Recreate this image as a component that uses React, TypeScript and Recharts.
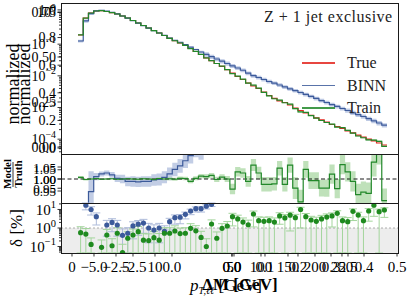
import React from "react";
import {
  ComposedChart,
  Line,
  Area,
  Scatter,
  ErrorBar,
  XAxis,
  YAxis,
  ReferenceLine,
  ReferenceArea,
  Legend,
} from "recharts";

// values, 59 bins, left to right
const trueVals = [
  0.195, 0.67, 0.964, 1.114, 1.14, 1.076, 0.986, 0.897, 0.776, 0.67,
  0.559, 0.466, 0.389, 0.324, 0.27, 0.225, 0.188, 0.153, 0.128, 0.109,
  0.0908, 0.073, 0.0587, 0.0472, 0.0366, 0.0299, 0.0245, 0.02, 0.0158, 0.0123,
  0.00953, 0.00766, 0.00594, 0.00478, 0.00398, 0.00309, 0.00239, 0.00193, 0.00163, 0.00144,
  0.0012, 0.000964, 0.000805, 0.000671, 0.00056, 0.000467, 0.000404, 0.000349, 0.000291, 0.000251,
  0.000217, 0.000184, 0.000157, 0.000135, 0.000117, 0.000101, 0.0000877, 0.0000757, 0.0000655,
];
const trainVals = [
  0.196, 0.669, 0.964, 1.116, 1.139, 1.076, 0.987, 0.896, 0.776, 0.671,
  0.559, 0.466, 0.389, 0.324, 0.269, 0.225, 0.188, 0.153, 0.128, 0.109,
  0.091, 0.0723, 0.0589, 0.0478, 0.037, 0.0303, 0.0245, 0.0202, 0.0158, 0.01178,
  0.00982, 0.00785, 0.00588, 0.00506, 0.00408, 0.00302, 0.00234, 0.00189, 0.0017, 0.00141,
  0.00127, 0.000927, 0.000729, 0.000698, 0.000556, 0.000464, 0.000389, 0.000336, 0.000297, 0.000241,
  0.00023, 0.00019, 0.000155, 0.000126, 0.000111, 0.0000949, 0.0000938, 0.0000855, 0.0000596,
];
const binnVals = [
  0.126, 0.54, 0.916, 1.125, 1.164, 1.103, 1.003, 0.899, 0.776, 0.663,
  0.553, 0.461, 0.385, 0.321, 0.269, 0.225, 0.189, 0.156, 0.133, 0.115,
  0.0977, 0.0801, 0.0679, 0.0566, 0.0479, 0.0402, 0.034, 0.029, 0.0245, 0.0207,
  0.0177, 0.015, 0.0121, 0.0101, 0.00887, 0.00766, 0.00662, 0.00586, 0.00514, 0.00445,
  0.0039, 0.0034, 0.00298, 0.00258, 0.00223, 0.00193, 0.00166, 0.00144, 0.00124, 0.00108,
  0.000931, 0.000805, 0.000681, 0.000593, 0.00052, 0.000444, 0.00038, 0.000324, 0.000276,
];
const binnRelErr = [
  0.1, 0.12, 0.09, 0.015, 0.01, 0.01, 0.012, 0.015, 0.018, 0.02,
  0.022, 0.022, 0.022, 0.022, 0.024, 0.025, 0.025, 0.026, 0.027, 0.027,
  0.028, 0.03, 0.06, 0.1, 0.16, 0.16, 0.15, 0.15, 0.15, 0.14,
  0.14, 0.14, 0.14, 0.14, 0.14, 0.13, 0.13, 0.13, 0.13, 0.13,
  0.13, 0.13, 0.13, 0.13, 0.13, 0.14, 0.14, 0.14, 0.14, 0.14,
  0.14, 0.15, 0.15, 0.15, 0.15, 0.15, 0.16, 0.16, 0.16,
];
const ratioTrain = [
  1.007, 0.998, 1.0, 1.002, 0.999, 1.0, 1.001, 0.999, 1.0, 1.001,
  1.0, 0.999, 1.001, 1.0, 0.998, 1.002, 1.0, 1.001, 0.999, 1.003,
  1.002, 0.99, 1.003, 1.012, 1.01, 1.015, 0.998, 1.008, 1.0, 0.958,
  1.03, 1.025, 0.99, 1.058, 1.025, 0.978, 0.978, 0.98, 1.045, 0.978,
  1.058, 0.962, 0.905, 1.04, 0.993, 0.993, 0.962, 0.962, 1.02, 0.96,
  1.06, 1.03, 0.99, 0.935, 0.945, 0.94, 1.07, 1.13, 0.91,
];
const ratioTrainErr = [
  0.006, 0.004, 0.003, 0.003, 0.003, 0.003, 0.003, 0.003, 0.003, 0.003,
  0.004, 0.004, 0.004, 0.004, 0.005, 0.005, 0.005, 0.006, 0.006, 0.007,
  0.007, 0.008, 0.008, 0.009, 0.01, 0.01, 0.011, 0.012, 0.013, 0.022,
  0.02, 0.02, 0.022, 0.025, 0.026, 0.03, 0.03, 0.028, 0.03, 0.03,
  0.032, 0.045, 0.05, 0.035, 0.035, 0.035, 0.035, 0.036, 0.04, 0.04,
  0.04, 0.04, 0.042, 0.045, 0.045, 0.045, 0.06, 0.07, 0.05,
];
const ratioBinn = [
  0.65, 0.8, 0.947, 1.01, 1.021, 1.025, 1.017, 1.003, 1.0, 0.99,
  0.99, 0.988, 0.99, 0.99, 0.996, 0.998, 1.007, 1.021, 1.04, 1.055,
  1.076, 1.097, 1.16, 1.2, 1.31, 1.34, 1.39, 1.45, 1.55, 1.68,
  1.86, 1.96, 2.0, 2.1, 2.2, 2.5, 2.8, 3.0, 3.2, 3.1,
  3.2, 3.3, 3.5, 3.8, 3.8, 3.9, 4.0, 4.1, 4.1, 4.1,
  4.3, 4.3, 4.4, 4.4, 4.4, 4.4, 4.3, 4.3, 4.2,
];

// delta [%] per bin, null = not drawn; errors in decades (9 = down to the axis)
const deltaBinn = [
  null, 17, 10, 4.1, null, 1.45, 2.0, 1.45, 0.4, 0.52,
  1.3, 1.6, 1.85, 1.0, 0.78, 1.0, 0.66, 2.2, 3.6, 3.8,
  5.5, 8.3, 11, 11, 15, 19, null, null, null, null,
  null, null, null, null, null, null, null, null, null, null,
  null, null, null, null, null, null, null, null, null, null,
  null, null, null, null, null, null, null, null, null,
];
const deltaBinnUp = [
  0, 0.12, 0.15, 0.2, 0, 0.25, 0.2, 0.25, 0.35, 0.3,
  0.22, 0.2, 0.2, 0.25, 0.28, 0.25, 0.3, 0.18, 0.15, 0.15,
  0.12, 0.1, 0.1, 0.1, 0.08, 0.08,
];
const deltaBinnDown = [
  0, 0.25, 0.3, 0.45, 0, 0.6, 0.5, 0.6, 9, 9,
  0.7, 0.6, 0.55, 0.8, 9, 0.8, 9, 0.45, 0.35, 0.35,
  0.25, 0.2, 0.18, 0.18, 0.15, 0.12,
];
const deltaTrain = [
  0.56, 0.47, 0.13, null, 0.09, 0.42, 0.11, 0.52, 0.047, 0.28,
  0.42, 0.63, 0.22, 0.21, 0.3, 0.22, 0.52, 0.52, 0.69, 0.5,
  0.52, 0.96, 0.7, 0.31, 0.1, 1.65, 0.28, 0.96, 1.28, 4.1,
  3.1, 2.1, 1.5, 5.7, 2.5, 2.3, 2.5, 2.1, 4.5, 3.5,
  4.9, 3.6, 10, 4.1, 2.7, 2.3, 3.1, 3.9, 4.5, 6.2,
  2.5, 2.2, 8, 5, 2.5, 8.3, 17, 7.6, 9.4,
];
const deltaTrainUp = [
  0.32, 0.3, 0.35, 0, 0.4, 0.3, 0.38, 0.3, 0.45, 0.35,
  0.32, 0.28, 0.35, 0.36, 0.33, 0.36, 0.3, 0.3, 0.28, 0.3,
  0.3, 0.25, 0.28, 0.33, 0.42, 0.22, 0.34, 0.25, 0.24, 0.18,
  0.2, 0.22, 0.25, 0.16, 0.2, 0.22, 0.2, 0.22, 0.17, 0.18,
  0.16, 0.18, 0.12, 0.17, 0.2, 0.22, 0.19, 0.17, 0.16, 0.14,
  0.2, 0.22, 0.13, 0.15, 0.2, 0.13, 0.1, 0.14, 0.12,
];
const deltaTrainDown = [
  9, 9, 9, 0, 9, 9, 9, 9, 9, 9,
  9, 9, 9, 9, 9, 9, 9, 9, 9, 9,
  9, 9, 9, 9, 9, 9, 9, 9, 9, 0.5,
  9, 9, 9, 0.7, 9, 9, 9, 9, 0.45, 9,
  0.85, 9, 1.0, 9, 9, 9, 9, 9, 0.6, 9,
  9, 9, 0.5, 9, 9, 0.55, 0.6, 9, 0.4,
];

// tick labels (several axes print on top of each other in the original)
const mainLinTicks = [0, 0.25, 0.5, 0.75];
const mainLin2Ticks = [0, 0.2, 0.4, 0.6, 0.8, 1.0];
const ratioTicks = [0.95, 1.0, 1.05];
const xTicksEta = [-5, -2.5, 0];
const xTicksPhi = [-2.5, 0, 2.5];
const xTicksN = [0, 10];
const xTicksPt = [50, 100, 150, 200, 250];
const xTicksR = [0, 0.1, 0.2, 0.3, 0.4, 0.5];

const N = trueVals.length;
const X_DOMAIN: [number, number] = [-3.246, 61.29];
const MAIN_DOMAIN: [number, number] = [3.162e-5, 1.995];
const DELTA_DOMAIN: [number, number] = [0.0447, 22.39];

const FONT = '"Liberation Serif", "DejaVu Serif", serif';
const SPINE = 61;
const RED = "#e3261f";
const BLUE = "#3c5a9a";
const BLUE_BAND = "#b7c4e1";
const GREEN = "#22882a";
const GREEN_BAND = "#a9d7a3";

const at = (arr: number[], i: number) => arr[Math.min(i, N - 1)];

const mainData = Array.from({ length: N + 1 }, (_, i) => {
  const t = at(trainVals, i);
  const b = at(binnVals, i);
  const eb = at(binnRelErr, i);
  const et = at(ratioTrainErr, i);
  return {
    x: i,
    truth: at(trueVals, i),
    train: t,
    binn: b,
    binnBand: [b * (1 - eb), b * (1 + eb)],
    trainBand: [t * (1 - et), t * (1 + et)],
  };
});

const ratioData = Array.from({ length: N + 1 }, (_, i) => {
  const rt = at(ratioTrain, i);
  const rb = at(ratioBinn, i);
  const et = at(ratioTrainErr, i);
  const eb = at(binnRelErr, i);
  return {
    x: i,
    rTrain: rt,
    rBinn: rb,
    rTrainBand: [rt - et, rt + et],
    rBinnBand: [rb * (1 - eb), rb * (1 + eb)],
  };
});

const toPoints = (vals: (number | null)[], up: number[], down: number[]) =>
  vals.flatMap((v, i) =>
    v == null
      ? []
      : [
          {
            x: i + 0.5,
            y: v,
            err: [
              v - Math.max(v * Math.pow(10, -down[i]), DELTA_DOMAIN[0]),
              Math.min(v * Math.pow(10, up[i]), DELTA_DOMAIN[1]) - v,
            ],
          },
        ]
  );
const binnPts = toPoints(deltaBinn, deltaBinnUp, deltaBinnDown);
const trainPts = toPoints(deltaTrain, deltaTrainUp, deltaTrainDown);

const logTicks = (lo: number, hi: number) => {
  const out: number[] = [];
  for (let e = Math.floor(Math.log10(lo)); e <= Math.ceil(Math.log10(hi)); e++) {
    for (let m = 1; m < 10; m++) {
      const v = m * Math.pow(10, e);
      if (v >= lo && v <= hi) out.push(v);
    }
  }
  return out;
};
const mainLogTicks = logTicks(MAIN_DOMAIN[0], MAIN_DOMAIN[1]);
const deltaLogTicks = logTicks(DELTA_DOMAIN[0], DELTA_DOMAIN[1]);

const fmt = (d: number) => (v: number) => (v < 0 ? "\u2212" : "") + Math.abs(v).toFixed(d);

const LogTick = (props: any) => {
  const { y, payload, fontSize } = props;
  const lv = Math.log10(payload.value);
  const e = Math.round(lv);
  const major = Math.abs(lv - e) < 1e-6;
  return (
    <g>
      <line x1={SPINE - (major ? 3.5 : 2)} x2={SPINE} y1={y} y2={y} stroke="#000" strokeWidth={0.8} />
      {major && (
        <text x={SPINE - 5} y={y} dy={fontSize * 0.35} textAnchor="end" fontSize={fontSize} fill="#000">
          <tspan>10</tspan>
          <tspan dy={-fontSize * 0.45} fontSize={fontSize * 0.7}>
            {e < 0 ? `\u2212${-e}` : `${e}`}
          </tspan>
        </text>
      )}
    </g>
  );
};

const LinTick = (props: any) => {
  const { y, payload, fontSize, format } = props;
  return (
    <g>
      <line x1={SPINE - 3.5} x2={SPINE} y1={y} y2={y} stroke="#000" strokeWidth={0.8} />
      <text x={SPINE - 5} y={y} dy={fontSize * 0.35} textAnchor="end" fontSize={fontSize} fill="#000">
        {format(payload.value)}
      </text>
    </g>
  );
};

const XSetTick = (props: any) => {
  const { x, payload, format } = props;
  return (
    <g>
      <line x1={x} x2={x} y1={50} y2={53.5} stroke="#000" strokeWidth={0.8} />
      <text x={x} y={69} textAnchor="middle" fontSize={15} fill="#000">
        {format(payload.value)}
      </text>
    </g>
  );
};

const xSets = [
  { id: "eta", ticks: xTicksEta, domain: [-7.115, 14.551], format: fmt(1) },
  { id: "phi", ticks: xTicksPhi, domain: [-3.685, 3.599], format: fmt(1) },
  { id: "n", ticks: xTicksN, domain: [-1.325, 39.398], format: fmt(0) },
  { id: "pt", ticks: xTicksPt, domain: [-270.4, 355.6], format: fmt(0) },
  { id: "r", ticks: xTicksR, domain: [-0.518, 0.506], format: fmt(1) },
];

const MainYLabel = () => (
  <g fontSize={18} fill="#000">
    <text transform="translate(19,84) rotate(-90)" textAnchor="middle">normalized</text>
    <text transform="translate(30,84) rotate(-90)" textAnchor="middle">normalized</text>
  </g>
);

const RatioYLabel = () => (
  <g fontSize={11} fontWeight="bold" fill="#000">
    <text transform="translate(11,19) rotate(-90)" textAnchor="middle">Model</text>
    <line x1={13} x2={13} y1={7} y2={32} stroke="#000" strokeWidth={0.8} />
    <text transform="translate(22,19) rotate(-90)" textAnchor="middle">Truth</text>
  </g>
);

const DeltaYLabel = () => (
  <text transform="translate(22,25) rotate(-90)" textAnchor="middle" fontSize={17} fill="#000">
    {"\u03b4 [%]"}
  </text>
);

const XLabel = () => (
  <g fontSize={17} fill="#000">
    <text x={226} y={88} textAnchor="middle">
      <tspan fontStyle="italic">p</tspan>
      <tspan fontSize={10} dy={3} fontStyle="italic">{"T,\u2113\u2113"}</tspan>
      <tspan dy={-3}> [GeV]</tspan>
    </text>
    <text x={240} y={87} textAnchor="middle" fontWeight="bold">
      {"\u0394M [GeV]"}
    </text>
  </g>
);

const LegendBox = () => (
  <div style={{ position: "relative", width: 150, height: 120, fontFamily: FONT, color: "#222" }}>
    <div style={{ position: "absolute", left: 9, top: 8, fontSize: 16, lineHeight: "18px", whiteSpace: "nowrap", letterSpacing: 0.5 }}>
      Z + 1 jet exclusive
    </div>
    {[
      { name: "True", color: RED, y: 63 },
      { name: "BINN", color: BLUE, y: 85.5 },
      { name: "Train", color: GREEN, y: 108 },
    ].map((e) => (
      <React.Fragment key={e.name}>
        <div style={{ position: "absolute", left: 47, top: e.y - 0.75, width: 33, height: 1.5, background: e.color, opacity: 0.85 }} />
        <div style={{ position: "absolute", left: 92, top: e.y - 10, fontSize: 16, lineHeight: "20px" }}>{e.name}</div>
      </React.Fragment>
    ))}
  </div>
);

const frame = (top: number, height: number): React.CSSProperties => ({
  position: "absolute",
  left: SPINE,
  top,
  width: 399 - SPINE,
  height,
  border: "1px solid #1a1a1a",
  boxSizing: "border-box",
  pointerEvents: "none",
});

export default function App() {
  return (
    <div style={{ position: "absolute", left: 0, top: 0, width: 407, height: 299, background: "#fff", fontFamily: FONT, overflow: "hidden" }}>
      <style>{`.recharts-surface { overflow: visible; }`}</style>
      <div style={{ position: "absolute", left: 0, top: 0 }}>
        <ComposedChart width={407} height={155} data={mainData} margin={{ top: 3, right: 8, bottom: 0, left: 0 }}>
          <XAxis dataKey="x" type="number" domain={X_DOMAIN} allowDataOverflow hide />
          <YAxis
            yAxisId="log"
            scale="log"
            type="number"
            domain={MAIN_DOMAIN}
            allowDataOverflow
            ticks={mainLogTicks}
            interval={0}
            width={61}
            axisLine={false}
            tickLine={false}
            tick={(p: any) => <LogTick {...p} fontSize={14} />}
            label={() => <MainYLabel />}
          />
          <YAxis
            yAxisId="lin"
            type="number"
            domain={[-0.0444, 0.8]}
            allowDataOverflow
            ticks={mainLinTicks}
            interval={0}
            mirror
            axisLine={false}
            tickLine={false}
            tick={(p: any) => <LinTick {...p} fontSize={14} format={fmt(2)} />}
          />
          <YAxis
            yAxisId="lin2"
            type="number"
            domain={[-0.05, 1.05]}
            allowDataOverflow
            ticks={mainLin2Ticks}
            interval={0}
            mirror
            axisLine={false}
            tickLine={false}
            tick={(p: any) => <LinTick {...p} fontSize={14} format={fmt(1)} />}
          />
          <Area yAxisId="log" dataKey="binnBand" type="stepAfter" stroke="none" fill={BLUE_BAND} fillOpacity={0.9} isAnimationActive={false} />
          <Area yAxisId="log" dataKey="trainBand" type="stepAfter" stroke="none" fill={GREEN_BAND} fillOpacity={0.8} isAnimationActive={false} />
          <Line yAxisId="log" dataKey="truth" type="stepAfter" stroke={RED} strokeWidth={1.2} dot={false} activeDot={false} isAnimationActive={false} />
          <Line yAxisId="log" dataKey="binn" type="stepAfter" stroke={BLUE} strokeWidth={1.2} dot={false} activeDot={false} isAnimationActive={false} />
          <Line yAxisId="log" dataKey="train" type="stepAfter" stroke={GREEN} strokeWidth={1.2} dot={false} activeDot={false} isAnimationActive={false} />
          <Legend
            layout="vertical"
            align="center"
            verticalAlign="middle"
            wrapperStyle={{ left: 255, top: 0, width: 150, height: 120 }}
            content={() => <LegendBox />}
          />
        </ComposedChart>
      </div>

      <div style={{ position: "absolute", left: 0, top: 155 }}>
        <ComposedChart width={407} height={48} data={ratioData} margin={{ top: 0, right: 8, bottom: 0, left: 0 }}>
          <XAxis dataKey="x" type="number" domain={X_DOMAIN} allowDataOverflow hide />
          <YAxis
            type="number"
            domain={[0.9, 1.1]}
            allowDataOverflow
            ticks={ratioTicks}
            interval={0}
            width={61}
            axisLine={false}
            tickLine={false}
            tick={(p: any) => <LinTick {...p} fontSize={13} format={fmt(2)} />}
            label={() => <RatioYLabel />}
          />
          <YAxis
            yAxisId="r2"
            type="number"
            domain={[0.87, 1.13]}
            allowDataOverflow
            ticks={ratioTicks}
            interval={0}
            mirror
            axisLine={false}
            tickLine={false}
            tick={(p: any) => <LinTick {...p} fontSize={13} format={fmt(2)} />}
          />
          <Area dataKey="rBinnBand" type="stepAfter" stroke="none" fill={BLUE_BAND} fillOpacity={0.85} isAnimationActive={false} />
          <Area dataKey="rTrainBand" type="stepAfter" stroke="none" fill={GREEN_BAND} fillOpacity={0.75} isAnimationActive={false} />
          <ReferenceLine y={1} stroke="#000" strokeWidth={0.9} strokeDasharray="4 2.5" />
          <Line dataKey="rBinn" type="stepAfter" stroke={BLUE} strokeWidth={1.2} dot={false} activeDot={false} isAnimationActive={false} />
          <Line dataKey="rTrain" type="stepAfter" stroke={GREEN} strokeWidth={1.2} dot={false} activeDot={false} isAnimationActive={false} />
        </ComposedChart>
      </div>

      <div style={{ position: "absolute", left: 0, top: 203 }}>
        <ComposedChart width={407} height={96} data={mainData} margin={{ top: 0, right: 8, bottom: 0, left: 0 }}>
          <XAxis
            dataKey="x"
            type="number"
            domain={X_DOMAIN}
            allowDataOverflow
            height={46}
            tick={false}
            tickLine={false}
            axisLine={false}
            label={() => <XLabel />}
          />
          {xSets.map((s) => (
            <XAxis
              key={s.id}
              xAxisId={s.id}
              dataKey="x"
              type="number"
              domain={s.domain}
              allowDataOverflow
              ticks={s.ticks}
              interval={0}
              mirror
              axisLine={false}
              tickLine={false}
              tick={(p: any) => <XSetTick {...p} format={s.format} />}
            />
          ))}
          <YAxis
            scale="log"
            type="number"
            domain={DELTA_DOMAIN}
            allowDataOverflow
            ticks={deltaLogTicks}
            interval={0}
            width={61}
            axisLine={false}
            tickLine={false}
            tick={(p: any) => <LogTick {...p} fontSize={15} />}
            label={() => <DeltaYLabel />}
          />
          <ReferenceArea y1={DELTA_DOMAIN[0]} y2={1} fill="#ededed" fillOpacity={1} stroke="none" />
          <ReferenceLine y={1} stroke="#9a9a9a" strokeWidth={0.8} strokeDasharray="2 2" />
          <Scatter
            data={binnPts}
            dataKey="y"
            isAnimationActive={false}
            shape={(p: any) => <circle cx={p.cx} cy={p.cy} r={2.6} fill={BLUE} />}
          >
            <ErrorBar dataKey="err" direction="y" width={4} stroke="#aebbda" strokeWidth={1} />
          </Scatter>
          <Scatter
            data={trainPts}
            dataKey="y"
            isAnimationActive={false}
            shape={(p: any) => <circle cx={p.cx} cy={p.cy} r={2.6} fill="#1f8a1f" />}
          >
            <ErrorBar dataKey="err" direction="y" width={4} stroke="#a3d59c" strokeWidth={1} />
          </Scatter>
        </ComposedChart>
      </div>

      <div style={frame(3, 152)} />
      <div style={frame(154, 50)} />
      <div style={frame(203, 51)} />
    </div>
  );
}
